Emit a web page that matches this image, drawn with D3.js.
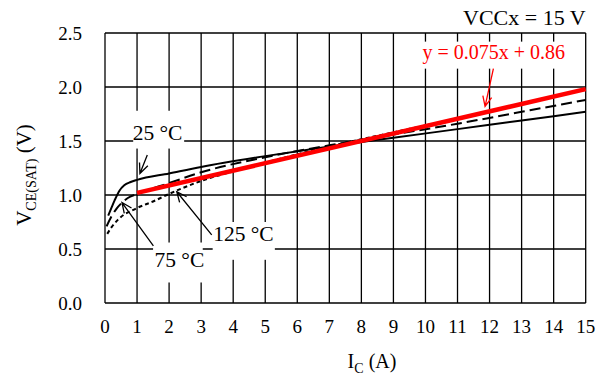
<!DOCTYPE html>
<html>
<head>
<meta charset="utf-8">
<script src="https://cdn.jsdelivr.net/npm/d3@7"></script>
<style>
  body { margin: 0; background: #fff; }
  svg { font-family: "Liberation Serif", "Times New Roman", serif; }
</style>
</head>
<body>
<svg width="603" height="376"></svg>
<script>
// Vce(sat) vs Ic at VCCx = 15 V

var xTicks = [0, 1, 2, 3, 4, 5, 6, 7, 8, 9, 10, 11, 12, 13, 14, 15];
var yTicks = [0.0, 0.5, 1.0, 1.5, 2.0, 2.5];

var ic = [0.1, 0.2, 0.3, 0.45, 0.6, 0.8, 1, 2, 3, 5, 7, 9, 11, 13, 15];
var vce25 = [0.81, 0.88, 0.95, 1.04, 1.09, 1.12, 1.14, 1.20, 1.26, 1.36, 1.45, 1.53, 1.61, 1.69, 1.77];

var ic75 = [0.05, 0.2, 0.35, 0.5, 0.7, 1, 2, 3, 5, 7, 9, 11, 13, 15];
var vce75 = [0.71, 0.80, 0.87, 0.92, 0.97, 1.01, 1.11, 1.21, 1.35, 1.46, 1.56, 1.66, 1.77, 1.88];

var ic125 = [0.07, 0.2, 0.4, 0.6, 0.8, 1, 1.5, 2, 3, 4, 5, 7, 9, 11, 13, 15];
var vce125 = [0.64, 0.70, 0.77, 0.82, 0.85, 0.88, 0.94, 1.01, 1.13, 1.22, 1.30, 1.45, 1.58, 1.71, 1.845, 1.98];

var fitIc = [1, 15];
var fitVce = [1.02, 1.98];

var svg = d3.select("svg");

var x = d3.scaleLinear().domain([0, 15]).range([105, 585.7]);
var y = d3.scaleLinear().domain([0, 2.5]).range([303, 33]);

// grid
var grid = svg.append("g").attr("stroke", "#000").attr("stroke-width", 1.3);
grid.selectAll(".vg").data(xTicks).enter().append("line")
    .attr("x1", function(d) { return x(d); })
    .attr("x2", function(d) { return x(d); })
    .attr("y1", y(0)).attr("y2", y(2.5));
grid.selectAll(".hg").data(yTicks).enter().append("line")
    .attr("y1", function(d) { return y(d); })
    .attr("y2", function(d) { return y(d); })
    .attr("x1", x(0)).attr("x2", x(15));

// tick labels
svg.append("g").selectAll("text").data(xTicks).enter().append("text")
   .attr("x", function(d) { return x(d); })
   .attr("y", 333)
   .attr("text-anchor", "middle")
   .attr("font-size", 19)
   .text(function(d) { return d; });

svg.append("g").selectAll("text").data(yTicks).enter().append("text")
   .attr("x", 82)
   .attr("y", function(d) { return y(d) + 6.5; })
   .attr("text-anchor", "end")
   .attr("font-size", 19)
   .text(function(d) { return d.toFixed(1); });

// white boxes behind the labels (cover the grid)
var boxes = [
    { x0: 0.88, x1: 2.47, y0: 1.78, y1: 1.43 },
    { x0: 1.50, x1: 3.05, y0: 0.56, y1: 0.19 },
    { x0: 3.36, x1: 5.30, y0: 0.75, y1: 0.40 },
    { x0: 9.65, x1: 14.62, y0: 2.42, y1: 2.17 }
];
svg.append("g").selectAll("rect").data(boxes).enter().append("rect")
   .attr("x", function(d) { return x(d.x0); })
   .attr("y", function(d) { return y(d.y0); })
   .attr("width", function(d) { return x(d.x1) - x(d.x0); })
   .attr("height", function(d) { return y(d.y1) - y(d.y0); })
   .attr("fill", "#fff");

// curves
var line = d3.line()
    .x(function(d) { return x(d[0]); })
    .y(function(d) { return y(d[1]); })
    .curve(d3.curveMonotoneX);

svg.append("path").datum(d3.zip(ic, vce25))
   .attr("d", line).attr("fill", "none")
   .attr("stroke", "#000").attr("stroke-width", 2);

svg.append("path").datum(d3.zip(ic75, vce75))
   .attr("d", line).attr("fill", "none")
   .attr("stroke", "#000").attr("stroke-width", 2)
   .attr("stroke-dasharray", "11,5");

svg.append("path").datum(d3.zip(ic125, vce125))
   .attr("d", line).attr("fill", "none")
   .attr("stroke", "#000").attr("stroke-width", 2)
   .attr("stroke-dasharray", "4,3");

svg.append("path").datum(d3.zip(fitIc, fitVce))
   .attr("d", d3.line().x(function(d) { return x(d[0]); }).y(function(d) { return y(d[1]); }))
   .attr("fill", "none")
   .attr("stroke", "#ff0000").attr("stroke-width", 4.5);

// arrows: from [x, y] to [x, y] in data units
var arrows = [
    { from: [1.32, 1.37], to: [1.09, 1.20], color: "#000" },
    { from: [1.51, 0.53], to: [0.53, 0.93], color: "#000" },
    { from: [3.33, 0.63], to: [2.24, 1.03], color: "#000" },
    { from: [12.12, 2.17], to: [11.86, 1.82], color: "#ff0000" }
];

var ag = svg.append("g").attr("fill", "none").attr("stroke-width", 1.3);
arrows.forEach(function(a) {
    var x1 = x(a.from[0]), y1 = y(a.from[1]), x2 = x(a.to[0]), y2 = y(a.to[1]);
    var ang = Math.atan2(y2 - y1, x2 - x1), len = 11, spread = 0.42;
    var p = d3.path();
    p.moveTo(x1, y1); p.lineTo(x2, y2);
    p.moveTo(x2 - len * Math.cos(ang - spread), y2 - len * Math.sin(ang - spread));
    p.lineTo(x2, y2);
    p.lineTo(x2 - len * Math.cos(ang + spread), y2 - len * Math.sin(ang + spread));
    ag.append("path").attr("d", p.toString()).attr("stroke", a.color);
});

// temperature labels
var labels = [
    { text: "25 °C", x: 1.64, y: 1.51 },
    { text: "75 °C", x: 2.32, y: 0.33 },
    { text: "125 °C", x: 4.32, y: 0.57 }
];
svg.append("g").selectAll("text").data(labels).enter().append("text")
   .attr("x", function(d) { return x(d.x); })
   .attr("y", function(d) { return y(d.y); })
   .attr("text-anchor", "middle")
   .attr("font-size", 21.5)
   .text(function(d) { return d.text; });

// fit equation
svg.append("text")
   .attr("x", x(12.13)).attr("y", 59)
   .attr("text-anchor", "middle")
   .attr("font-size", 20)
   .attr("fill", "#ff0000")
   .text("y = 0.075x + 0.86");

// condition
svg.append("text")
   .attr("x", x(15)).attr("y", 25)
   .attr("text-anchor", "end")
   .attr("font-size", 22)
   .text("VCCx = 15 V");

// axis titles
var xt = svg.append("text")
   .attr("x", 372).attr("y", 368)
   .attr("text-anchor", "middle")
   .attr("font-size", 20);
xt.append("tspan").text("I");
xt.append("tspan").attr("font-size", 14).attr("dy", 5).text("C");
xt.append("tspan").attr("dy", -5).text(" (A)");

var yt = svg.append("text")
   .attr("transform", "translate(31,175) rotate(-90)")
   .attr("text-anchor", "middle")
   .attr("font-size", 21);
yt.append("tspan").text("V");
yt.append("tspan").attr("font-size", 14).attr("dy", 5).text("CE(SAT)");
yt.append("tspan").attr("dy", -5).text(" (V)");
</script>
</body>
</html>
